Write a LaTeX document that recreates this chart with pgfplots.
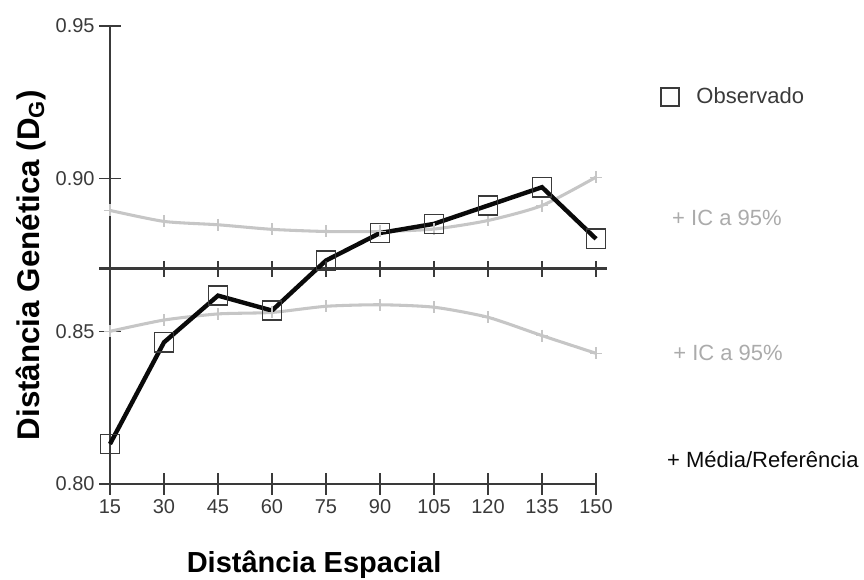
\documentclass[border=0pt]{standalone}
\usepackage{fontspec}
\setmainfont{Liberation Sans}
\usepackage{pgfplots}
\pgfplotsset{compat=1.18}
\definecolor{cigray}{HTML}{C6C6C6}
\definecolor{citext}{HTML}{ABABAB}
\definecolor{axisgray}{HTML}{3A3A3A}
\definecolor{obsblack}{HTML}{0A0A0A}

\pgfplotstableread{
x    obs     upper   lower
15   0.8131  0.8896  0.8500
30   0.8464  0.8860  0.8537
45   0.8617  0.8849  0.8557
60   0.8568  0.8834  0.8562
75   0.8732  0.8827  0.8582
90   0.8822  0.8827  0.8587
105  0.8852  0.8835  0.8579
120  0.8912  0.8863  0.8546
135  0.8972  0.8912  0.8486
150  0.8803  0.9005  0.8428
}\datatable

\begin{document}
\begin{tikzpicture}
\useasboundingbox (-82.5pt,-71.25pt) rectangle (565.5pt,363pt);
\begin{axis}[
  at={(0pt,0pt)}, anchor=south west,
  scale only axis, width=364.5pt, height=343.5pt,
  xmin=15, xmax=150, ymin=0.80, ymax=0.95,
  clip=false,
  axis lines=left,
  axis line style={-, axisgray, line width=1.1pt},
  xtick={15,30,45,60,75,90,105,120,135,150},
  ytick={0.80,0.85,0.90,0.95},
  tick align=center,
  major tick length=16pt,
  tick style={axisgray, line width=1.1pt},
  /pgf/number format/assume math mode=true,
  ticklabel style={font=\fontsize{15}{17}\selectfont, text=axisgray},
  yticklabel style={/pgf/number format/fixed, /pgf/number format/precision=2, /pgf/number format/fixed zerofill},
  xlabel={Distância Espacial},
  xlabel style={font=\fontsize{21.75}{24}\selectfont\bfseries, at={(axis description cs:0.42,-0.193)}, anchor=base},
  ylabel={Distância Genética (D\textsubscript{G})},
  ylabel style={font=\fontsize{23.5}{26}\selectfont\bfseries, at={(axis description cs:-0.146,0.478)}, anchor=base},
  legend style={at={(axis description cs:1.125,0.845)}, anchor=west, draw=none, fill=none,
    font=\fontsize{16.5}{18}\selectfont, text=axisgray},
  legend cell align=left,
]
\addlegendimage{only marks, mark=square, mark size=6.8pt, mark options={draw=axisgray, line width=1.1pt}}
\addlegendentry{\hspace{11pt}Observado}
% confidence intervals
\addplot[cigray, line width=2.3pt, smooth, tension=0.4, mark=+, mark size=4.5pt, mark options={cigray, line width=0.8pt}, forget plot] table[x=x, y=upper] {\datatable};
\addplot[cigray, line width=2.3pt, smooth, tension=0.4, mark=+, mark size=4.5pt, mark options={cigray, line width=0.8pt}, forget plot] table[x=x, y=lower] {\datatable};
% mean / reference line
\addplot[axisgray, line width=1.9pt, forget plot] coordinates {(12,0.8705) (153,0.8705)};
\addplot[only marks, mark=|, mark size=5.9pt, mark options={axisgray, line width=1.1pt}, forget plot] coordinates {
(15,0.8705) (30,0.8705) (45,0.8705) (60,0.8705) (75,0.8705) (90,0.8705) (105,0.8705) (120,0.8705) (135,0.8705) (150,0.8705)};
% observed
\addplot[obsblack, line width=3.3pt, forget plot] table[x=x, y=obs] {\datatable};
\addplot[only marks, mark=square, mark size=7.2pt, mark options={draw=axisgray, fill=none, line width=1.1pt}, forget plot] table[x=x, y=obs] {\datatable};
% labels on the right
\node[anchor=west, inner sep=0pt, text=citext, font=\fontsize{16.5}{18}\selectfont] at (axis cs:171.1,0.887) {+ IC a 95\%};
\node[anchor=west, inner sep=0pt, text=citext, font=\fontsize{16.5}{18}\selectfont] at (axis cs:171.4,0.843) {+ IC a 95\%};
\node[anchor=west, inner sep=0pt, text=obsblack, font=\fontsize{16.5}{18}\selectfont] at (axis cs:169.7,0.8079) {+ Média/Referência};
\end{axis}
\end{tikzpicture}
\end{document}
